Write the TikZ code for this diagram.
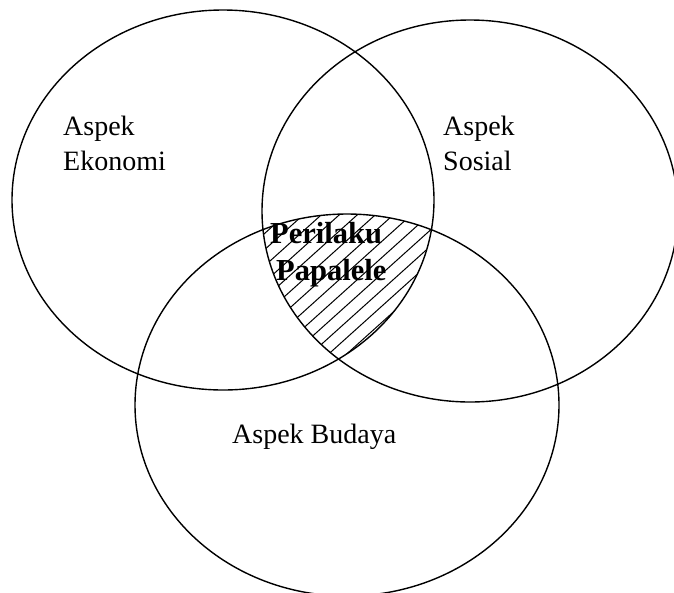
\documentclass[tikz,border=0pt]{standalone}
\usepackage{fontspec}
\setmainfont{Liberation Serif}
\begin{document}
\begin{tikzpicture}[x=1pt,y=-1pt,
  ring/.style={draw=black,line width=1.4pt},
  hatch/.style={draw=black,line width=1pt},
  lbl/.style={font=\fontsize{28}{33}\selectfont,align=left,inner sep=0pt,anchor=base west},
  blbl/.style={font=\fontsize{30.5}{34}\selectfont\bfseries,inner sep=0pt,anchor=base west}]
\useasboundingbox (0,0) rectangle (674,592);
\begin{scope}
  \clip (223,200) ellipse [x radius=211pt, y radius=190pt];
  \clip (470,211) ellipse [x radius=208pt, y radius=191pt];
  \clip (347,405) ellipse [x radius=212pt, y radius=191pt];
  \foreach \i in {-30,...,30}
    \draw[hatch] (330+\i*18,450) -- ++(300,-270);
\end{scope}
\draw[ring] (223,200) ellipse [x radius=211pt, y radius=190pt];
\draw[ring] (470,211) ellipse [x radius=208pt, y radius=191pt];
\draw[ring] (347,405) ellipse [x radius=212pt, y radius=191pt];
\node[lbl] (eko1) at (63,135) {Aspek};
\node[lbl] (eko2) at (63,170) {Ekonomi};
\node[lbl] (sos1) at (443,135) {Aspek};
\node[lbl] (sos2) at (443,170) {Sosial};
\node[lbl] (bud) at (232,443) {Aspek Budaya};
\node[blbl] (per1) at (270,243) {Perilaku};
\node[blbl] (per2) at (276,280) {Papalele};
\end{tikzpicture}
\end{document}
